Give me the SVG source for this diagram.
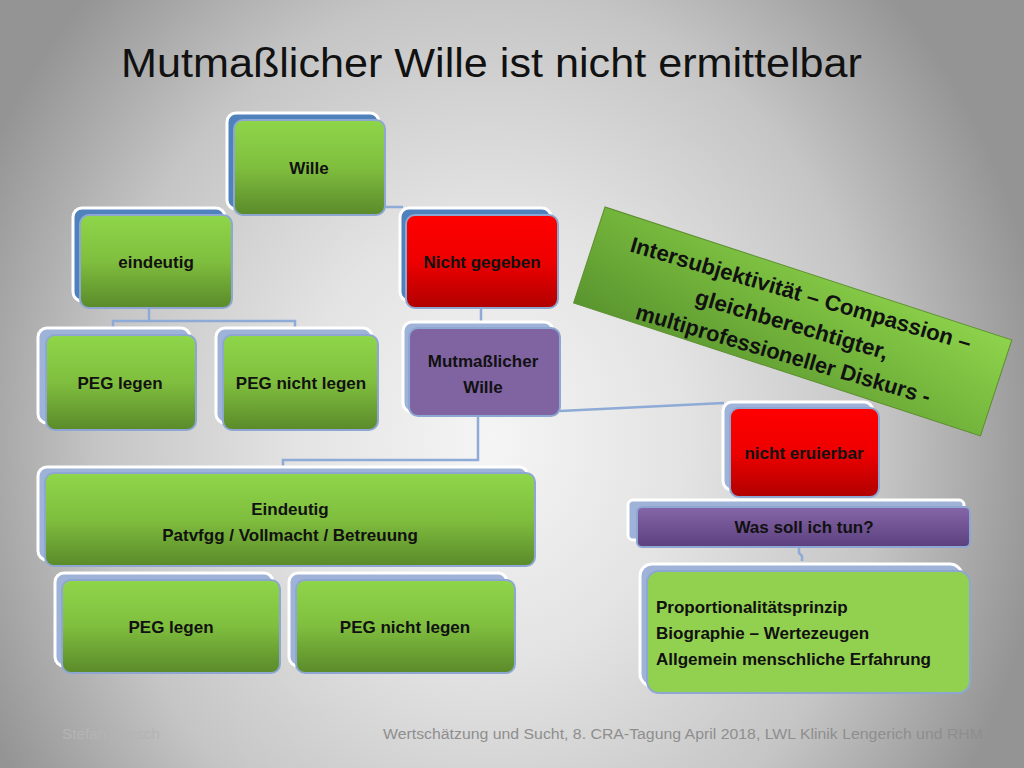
<svg xmlns="http://www.w3.org/2000/svg" width="1024" height="768" viewBox="0 0 1024 768">
<defs>
  <radialGradient id="bg" gradientUnits="userSpaceOnUse" cx="0" cy="0" r="1" gradientTransform="translate(490 440) scale(560 640)">
    <stop offset="0" stop-color="#f5f5f5"/>
    <stop offset="0.35" stop-color="#e3e3e3"/>
    <stop offset="0.7" stop-color="#c5c5c5"/>
    <stop offset="1" stop-color="#949494"/>
  </radialGradient>
  <linearGradient id="green" x1="0" y1="0" x2="0" y2="1">
    <stop offset="0" stop-color="#8fd64a"/>
    <stop offset="0.5" stop-color="#7fbe3e"/>
    <stop offset="1" stop-color="#5a8a2a"/>
  </linearGradient>
  <linearGradient id="red" x1="0" y1="0" x2="0" y2="1">
    <stop offset="0" stop-color="#ff0000"/>
    <stop offset="0.5" stop-color="#ee0000"/>
    <stop offset="1" stop-color="#b00000"/>
  </linearGradient>
  <linearGradient id="purple" x1="0" y1="0" x2="0" y2="1">
    <stop offset="0" stop-color="#8566a8"/>
    <stop offset="1" stop-color="#5c407e"/>
  </linearGradient>
  <linearGradient id="banner" x1="0" y1="1" x2="1" y2="0">
    <stop offset="0" stop-color="#5a952f"/>
    <stop offset="0.55" stop-color="#76b83d"/>
    <stop offset="1" stop-color="#8ed34c"/>
  </linearGradient>
  <style>
    .bk { stroke: #ffffff; stroke-width: 3; }
    .bkd { fill: #4f81bd; }
    .bkl { fill: #9fb3d8; }
    .fr { stroke: #8ea7d2; stroke-width: 2; }
    .g { fill: url(#green); }
    .r { fill: url(#red); }
    .pf { fill: #8064a2; }
    .pg { fill: url(#purple); }
    .lg { fill: #92d050; }
    .t { font-family: "Liberation Sans", Arial, sans-serif; font-weight: bold; font-size: 17px; fill: #111; text-anchor: middle; }
    .tl { font-family: "Liberation Sans", Arial, sans-serif; font-weight: bold; font-size: 17px; fill: #111; }
    .c { fill: none; stroke: #8eaad6; stroke-width: 2.5; }
  </style>
</defs>
<rect x="0" y="0" width="1024" height="768" fill="url(#bg)"/>

<text x="121" y="77" font-family="Liberation Sans, Arial, sans-serif" font-size="41" fill="#111" textLength="741" lengthAdjust="spacingAndGlyphs">Mutmaßlicher Wille ist nicht ermittelbar</text>

<g id="connectors">
  <path class="c" d="M384 207 H403"/>
  <path class="c" d="M149 308 V321 M113 328 V321 H295 V328"/>
  <path class="c" d="M481 308 V322"/>
  <path class="c" d="M478 415 V460 H283 V467"/>
  <path class="c" d="M560 411 L724 403"/>
  <path class="c" d="M799 547 V553 L802 556 V561"/>
</g>

<g id="n-wille">
  <rect class="bk bkd" x="227" y="113" width="152" height="96" rx="9"/>
  <rect class="fr g" x="234" y="120" width="151" height="95" rx="9"/>
  <text class="t" x="309" y="174">Wille</text>
</g>
<g id="n-eindeutig">
  <rect class="bk bkd" x="73" y="208" width="152" height="93" rx="9"/>
  <rect class="fr g" x="80" y="215" width="152" height="93" rx="9"/>
  <text class="t" x="156" y="268">eindeutig</text>
</g>
<g id="n-nicht-gegeben">
  <rect class="bk bkd" x="400" y="208" width="151" height="93" rx="9"/>
  <rect class="fr r" x="406" y="215" width="152" height="93" rx="9"/>
  <text class="t" x="482" y="268">Nicht gegeben</text>
</g>
<g id="n-peg-legen-1">
  <rect class="bk bkl" x="38" y="328" width="152" height="95" rx="9"/>
  <rect class="fr g" x="46" y="335" width="150" height="95" rx="9"/>
  <text class="t" x="120" y="389">PEG legen</text>
</g>
<g id="n-peg-nicht-legen-1">
  <rect class="bk bkl" x="216" y="328" width="156" height="95" rx="9"/>
  <rect class="fr g" x="223" y="335" width="155" height="95" rx="9"/>
  <text class="t" x="301" y="389">PEG nicht legen</text>
</g>
<g id="n-mutmasslicher">
  <rect class="bk bkl" x="403" y="322" width="150" height="90" rx="9"/>
  <rect class="fr pf" x="409" y="328" width="151" height="88" rx="9"/>
  <text class="t" x="483" y="367">Mutmaßlicher</text>
  <text class="t" x="483" y="393">Wille</text>
</g>
<g id="n-eindeutig-2">
  <rect class="bk bkl" x="38" y="467" width="490" height="93" rx="9"/>
  <rect class="fr g" x="45" y="473" width="490" height="93" rx="9"/>
  <text class="t" x="290" y="515">Eindeutig</text>
  <text class="t" x="290" y="541">Patvfgg / Vollmacht / Betreuung</text>
</g>
<g id="n-peg-legen-2">
  <rect class="bk bkl" x="55" y="573" width="218" height="93" rx="9"/>
  <rect class="fr g" x="62" y="580" width="218" height="93" rx="9"/>
  <text class="t" x="171" y="633">PEG legen</text>
</g>
<g id="n-peg-nicht-legen-2">
  <rect class="bk bkl" x="289" y="573" width="218" height="93" rx="9"/>
  <rect class="fr g" x="296" y="580" width="219" height="93" rx="9"/>
  <text class="t" x="405" y="633">PEG nicht legen</text>
</g>
<g id="n-nicht-eruierbar">
  <rect class="bk bkl" x="723" y="402" width="150" height="88" rx="9"/>
  <rect class="fr r" x="730" y="408" width="149" height="89" rx="9"/>
  <text class="t" x="804" y="459">nicht eruierbar</text>
</g>
<g id="n-was-soll">
  <rect class="bk bkl" x="628" y="500" width="336" height="40" rx="5"/>
  <rect class="fr pg" x="637" y="507" width="333" height="40" rx="5"/>
  <text class="t" x="804" y="533">Was soll ich tun?</text>
</g>
<g id="n-prinzip">
  <rect class="bk bkl" x="640" y="564" width="322" height="122" rx="12"/>
  <rect class="fr lg" x="647" y="571" width="323" height="122" rx="12"/>
  <text class="tl" x="656" y="613">Proportionalitätsprinzip</text>
  <text class="tl" x="656" y="639">Biographie – Wertezeugen</text>
  <text class="tl" x="656" y="665">Allgemein menschliche Erfahrung</text>
</g>

<g id="n-banner" transform="translate(605 207) rotate(18.1)">
  <rect x="0" y="0" width="428" height="101" fill="url(#banner)" stroke="#5d8f30" stroke-width="1"/>
  <g transform="rotate(-1.8 214 50)" font-family="Liberation Sans, Arial, sans-serif" font-weight="bold" font-size="22" fill="#111" text-anchor="middle">
    <text x="214" y="29" textLength="354" lengthAdjust="spacingAndGlyphs">Intersubjektivität – Compassion –</text>
    <text x="214" y="61" textLength="200" lengthAdjust="spacingAndGlyphs">gleichberechtigter,</text>
    <text x="214" y="92" textLength="306" lengthAdjust="spacingAndGlyphs">multiprofessioneller Diskurs -</text>
  </g>
</g>

<g id="footer" font-family="Liberation Sans, Arial, sans-serif" font-size="14">
  <text x="62" y="739" fill="#b4b4b4" textLength="98" lengthAdjust="spacingAndGlyphs">Stefan Kliesch</text>
  <text x="383" y="739" fill="#8e8e8e" textLength="600" lengthAdjust="spacingAndGlyphs">Wertschätzung und Sucht,  8. CRA-Tagung April 2018, LWL Klinik Lengerich und RHM</text>
</g>
</svg>
